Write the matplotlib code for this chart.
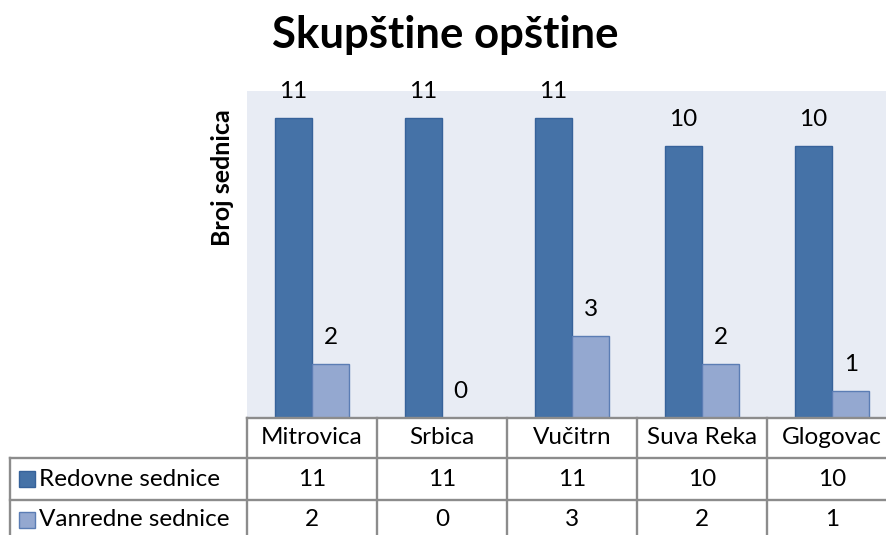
import matplotlib
matplotlib.use("Agg")
import matplotlib.pyplot as plt
import numpy as np
from matplotlib.transforms import blended_transform_factory
from matplotlib.patches import Rectangle

plt.rcParams['font.family'] = ['Lato', 'DejaVu Sans']

categories = ["Mitrovica", "Srbica", "Vučitrn", "Suva Reka", "Glogovac"]
series_names = ["Redovne sednice", "Vanredne sednice"]
redovne = [11, 11, 11, 10, 10]
vanredne = [2, 0, 3, 2, 1]
title = "Skupštine opštine"
ylabel = "Broj sednica"

dark = "#4572A7"
dark_edge = "#36629A"
light = "#94A8D0"
light_edge = "#5B7DB4"
bg = "#E8ECF4"
grid_col = "#8C8C8C"

FS = 17.5

W, H = 886, 535
fig = plt.figure(figsize=(W / 100, H / 100), dpi=100)
left_px, right_px, top_px, bot_px = 247, 897, 91, 418
ax = fig.add_axes([left_px / W, 1 - bot_px / H, (right_px - left_px) / W, (bot_px - top_px) / H])
ax.set_facecolor(bg)

x = np.arange(len(categories))
w = 0.287
b1 = ax.bar(x - w / 2, redovne, w, color=dark, edgecolor=dark_edge, linewidth=1.0)
b2 = ax.bar(x + w / 2, vanredne, w, color=light, edgecolor=light_edge, linewidth=1.0)
ax.set_xlim(-0.5, len(categories) - 0.5)
ax.set_ylim(0, 12)
ax.set_xticks([])
ax.set_yticks([])
for s in ax.spines.values():
    s.set_visible(False)

for bars, vals in ((b1, redovne), (b2, vanredne)):
    for r, v in zip(bars, vals):
        ax.annotate(str(v), (r.get_x() + r.get_width() / 2, v), xytext=(0, 19),
                    textcoords="offset points", ha="center", va="center", fontsize=FS)

fig.text(445 / W, 1 - 35 / H, title, ha="center", va="center", fontsize=31.5, fontweight="bold")
fig.text(222 / W, 1 - 178 / H, ylabel, ha="center", va="center", rotation=90,
         fontsize=18, fontweight="bold")

# data table
axw = right_px - left_px
axh = bot_px - top_px
def ay(py):
    return (bot_px - py) / axh
def axx(px):
    return (px - left_px) / axw

tr = blended_transform_factory(ax.transData, ax.transAxes)
ta = ax.transAxes
lw = 1.7
y0, y1, y2, y3 = 0, ay(458), ay(500), ay(545)
ax.plot([-0.5, len(categories) - 0.5], [0, 0], transform=tr, color=grid_col, lw=lw, clip_on=False)
for i in range(len(categories) + 1):
    ax.plot([i - 0.5, i - 0.5], [y0, y3], transform=tr, color=grid_col, lw=lw, clip_on=False)
xl = axx(10)
ax.plot([xl, xl], [y1, y3], transform=ta, color=grid_col, lw=lw, clip_on=False)
for yy in (y1, y2):
    ax.plot([xl, 1.0], [yy, yy], transform=ta, color=grid_col, lw=lw, clip_on=False)

for i, c in enumerate(categories):
    ax.text(i, (y0 + y1) / 2, c, transform=tr, ha="center", va="center", fontsize=FS, clip_on=False)
rows = [redovne, vanredne]
cols = [(dark, dark_edge), (light, light_edge)]
ycent = [(y1 + y2) / 2, ay(520)]
for name, vals, (fc, ec), yc in zip(series_names, rows, cols, ycent):
    sq = 16
    sx = axx(19)
    ax.add_patch(Rectangle((sx, yc - (sq / 2) / axh), sq / axw, sq / axh, transform=ta,
                           facecolor=fc, edgecolor=ec, lw=1.0, clip_on=False))
    ax.text(axx(39), yc, name, transform=ta, ha="left", va="center", fontsize=FS, clip_on=False)
    for i, v in enumerate(vals):
        ax.text(i, yc, str(v), transform=tr, ha="center", va="center", fontsize=FS, clip_on=False)

fig.savefig("out.png", dpi=100)
